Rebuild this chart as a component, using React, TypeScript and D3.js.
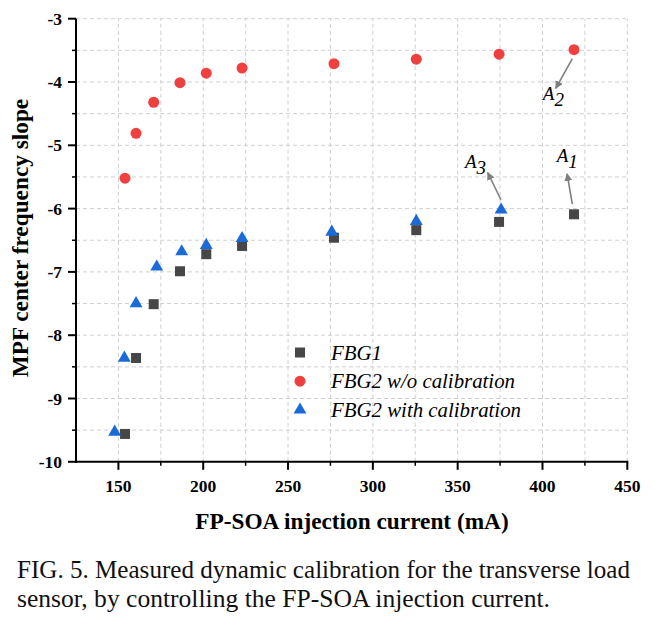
import React from "react";
import * as d3 from "d3";

const currentFBG1 = [153.9, 160.4, 170.8, 186.3, 201.8, 222.9, 277.1, 325.6, 374.4, 418.6];
const slopeFBG1 = [-9.56, -8.36, -7.51, -6.99, -6.72, -6.59, -6.46, -6.34, -6.21, -6.09];

const currentFBG2raw = [153.9, 160.4, 170.8, 186.3, 201.8, 222.9, 277.1, 325.6, 374.4, 418.6];
const slopeFBG2raw = [-5.52, -4.81, -4.32, -4.01, -3.86, -3.78, -3.71, -3.64, -3.56, -3.49];

const currentFBG2cal = [147.8, 153.5, 160.4, 172.6, 187.3, 201.8, 222.9, 275.8, 325.6, 375.6];
const slopeFBG2cal = [-9.53, -8.36, -7.5, -6.92, -6.68, -6.58, -6.47, -6.37, -6.2, -6.02];

const xTicks = [150, 200, 250, 300, 350, 400, 450];
const yTicks = [-3, -4, -5, -6, -7, -8, -9, -10];
const legendLabels = ["FBG1", "FBG2 w/o calibration", "FBG2 with calibration"];
const legendWidths = [51, 184, 190];

const annotations = [
  { label: "A", sub: "1", x0: 417.6, y0: -5.93, x1: 414.5, y1: -5.45, lx: 408.4, ly: -5.27 },
  { label: "A", sub: "2", x0: 417.6, y0: -3.63, x1: 407.8, y1: -4.1, lx: 400.2, ly: -4.28 },
  { label: "A", sub: "3", x0: 375.5, y0: -5.86, x1: 367.7, y1: -5.43, lx: 354.3, ly: -5.36 },
];

const W = 653;
const H = 627;
const x = d3.scaleLinear().domain([125, 450]).range([76, 627.3]);
const y = d3.scaleLinear().domain([-10, -3]).range([461.8, 18.7]);

const SQ = "#474747";
const RED = "#f03f3f";
const BLUE = "#1a6ad8";
const serif = "Liberation Serif";

function Square({ cx, cy }: { cx: number; cy: number }) {
  return <rect x={cx - 5} y={cy - 5} width={10} height={10} fill={SQ} />;
}
function Circle({ cx, cy }: { cx: number; cy: number }) {
  return <circle cx={cx} cy={cy} r={5.5} fill={RED} />;
}
function Tri({ cx, cy }: { cx: number; cy: number }) {
  const s = d3.symbol().type(d3.symbolTriangle).size(72)();
  return <path d={s || ""} transform={`translate(${cx},${cy})`} fill={BLUE} />;
}

export default function App() {
  const xGrid = d3.range(150, 451, 25);
  const yGrid = d3.range(-9.5, -2.9, 0.5);
  const xMinor = d3.range(175, 450, 50);
  const yMinor = d3.range(-9.5, -3, 1);
  const [x0, x1] = x.range();
  const [yb, yt] = y.range();
  return (
    <svg width={W} height={H} style={{ position: "absolute", left: 0, top: 0, background: "#fff", fontFamily: serif }}>
      <g stroke="#cfcfcf" strokeWidth={1} strokeDasharray="4,3">
        {xGrid.map((v) => (
          <line key={"gx" + v} x1={x(v)} x2={x(v)} y1={yb} y2={yt} />
        ))}
        {yGrid.map((v) => (
          <line key={"gy" + v} x1={x0} x2={x1} y1={y(v)} y2={y(v)} />
        ))}
      </g>
      <g stroke="#000" strokeWidth={2}>
        <line x1={x0} x2={x0} y1={yb + 1} y2={yt} />
        <line x1={x0 - 1} x2={x1 + 1} y1={yb} y2={yb} />
        {xTicks.map((v) => (
          <line key={"tx" + v} x1={x(v)} x2={x(v)} y1={yb} y2={yb + 8} />
        ))}
        {xMinor.map((v) => (
          <line key={"mx" + v} x1={x(v)} x2={x(v)} y1={yb} y2={yb + 4} strokeWidth={1.5} />
        ))}
        {yTicks.map((v) => (
          <line key={"ty" + v} x1={x0 - 8} x2={x0} y1={y(v)} y2={y(v)} />
        ))}
        {yMinor.map((v) => (
          <line key={"my" + v} x1={x0 - 4} x2={x0} y1={y(v)} y2={y(v)} strokeWidth={1.5} />
        ))}
      </g>
      <g style={{ fontFamily: serif }} fontWeight="bold" fontSize={17.5} fill="#000">
        {xTicks.map((v) => (
          <text key={"lx" + v} x={x(v)} y={yb + 30} textAnchor="middle">
            {v}
          </text>
        ))}
        {yTicks.map((v) => (
          <text key={"ly" + v} x={x0 - 14} y={y(v) + 6} textAnchor="end">
            {String(v)}
          </text>
        ))}
      </g>
      <text x={352} y={529} textAnchor="middle" style={{ fontFamily: serif }} fontWeight="bold" fontSize={23.3}>
        FP-SOA injection current (mA)
      </text>
      <text
        transform={`translate(28,238) rotate(-90)`}
        textAnchor="middle"
        style={{ fontFamily: serif }}
        fontWeight="bold"
        fontSize={23.3}
      >
        MPF center frequency slope
      </text>
      {currentFBG1.map((c, i) => (
        <Square key={"s" + i} cx={x(c)} cy={y(slopeFBG1[i])} />
      ))}
      {currentFBG2raw.map((c, i) => (
        <Circle key={"c" + i} cx={x(c)} cy={y(slopeFBG2raw[i])} />
      ))}
      {currentFBG2cal.map((c, i) => (
        <Tri key={"t" + i} cx={x(c)} cy={y(slopeFBG2cal[i])} />
      ))}
      <defs>
        <marker id="ah" viewBox="0 0 10 10" refX={9} refY={5} markerWidth={5} markerHeight={5} orient="auto" markerUnits="strokeWidth">
          <path d="M0,0 L10,5 L0,10 z" fill="#7f7f7f" />
        </marker>
      </defs>
      {annotations.map((a, i) => (
        <g key={"a" + i}>
          <line x1={x(a.x0)} y1={y(a.y0)} x2={x(a.x1)} y2={y(a.y1)} stroke="#7f7f7f" strokeWidth={1.6} markerEnd="url(#ah)" />
          <text x={x(a.lx)} y={y(a.ly)} style={{ fontFamily: serif }} fontStyle="italic" fontSize={19}>
            {a.label}
            <tspan dy={6}>{a.sub}</tspan>
          </text>
        </g>
      ))}
      {legendLabels.map((l, i) => {
        const ly = 352.5 + i * 28.7;
        return (
          <g key={"lg" + i}>
            {i === 0 && <Square cx={300} cy={ly} />}
            {i === 1 && <Circle cx={300} cy={ly} />}
            {i === 2 && <Tri cx={300} cy={ly} />}
            <text
              x={331}
              y={ly + 7}
              style={{ fontFamily: serif }}
              fontStyle="italic"
              fontSize={20}
              textLength={legendWidths[i]}
              lengthAdjust="spacingAndGlyphs"
            >
              {l}
            </text>
          </g>
        );
      })}
      <g style={{ fontFamily: serif }} fontSize={24.5} fill="#111">
        <text x={17} y={578} textLength={613} lengthAdjust="spacingAndGlyphs">
          FIG. 5. Measured dynamic calibration for the transverse load
        </text>
        <text x={17} y={607} textLength={533} lengthAdjust="spacingAndGlyphs">
          sensor, by controlling the FP-SOA injection current.
        </text>
      </g>
    </svg>
  );
}
